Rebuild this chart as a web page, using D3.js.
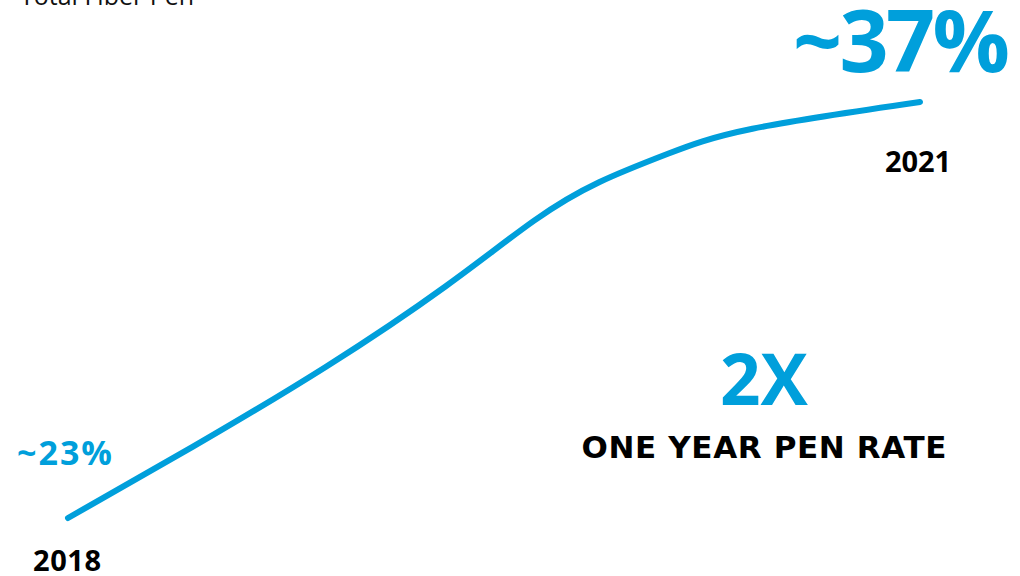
<!DOCTYPE html>
<html>
<head>
<meta charset="utf-8">
<script src="https://cdn.jsdelivr.net/npm/d3@7"></script>
<style>
  body { margin: 0; background: #fff; }
  text { font-family: "Open Sans", "Noto Sans", sans-serif; }
</style>
</head>
<body>
<div id="chart"></div>
<script>
// data (year, fiber penetration %)
const years = [2018.00, 2018.44, 2018.91, 2019.33, 2019.64, 2019.87, 2020.11, 2020.41, 2021.00];
const penRate = [23.0, 25.4, 28.1, 30.8, 33.0, 34.3, 35.25, 36.1, 37.0];
const startLabel = "~23%";
const endLabel = "~37%";
const yearLabels = ["2018", "2021"];

const width = 1020, height = 576;
const blue = "#009fdb";

const svg = d3.select("#chart")
              .append("svg")
              .attr("width", width)
              .attr("height", height);

// scales
const x = d3.scaleLinear().domain([2018, 2021]).range([68, 920]);
const y = d3.scaleLinear().domain([23, 37]).range([518, 102]);

const pts = years.map((d, i) => ({year: d, pen: penRate[i]}));

const line = d3.line()
               .curve(d3.curveNatural)
               .x(d => x(d.year))
               .y(d => y(d.pen));

svg.append("path")
   .datum(pts)
   .attr("d", line)
   .style("fill", "none")
   .style("stroke", blue)
   .style("stroke-width", "6px")
   .style("stroke-linecap", "round")
   .style("stroke-linejoin", "round");

// title (cut at the top edge)
svg.append("text")
   .attr("x", 20)
   .attr("y", 5)
   .style("font-size", "25px")
   .attr("fill", "#111")
   .text("Total Fiber Pen");

// start value
svg.append("text")
   .attr("x", 17)
   .attr("y", 465)
   .style("font-size", "34px")
   .style("font-weight", "bold")
   .attr("fill", blue)
   .attr("textLength", 95)
   .text(startLabel);

svg.append("text")
   .attr("x", 33)
   .attr("y", 571)
   .style("font-size", "29px")
   .style("font-weight", "bold")
   .attr("fill", "#000")
   .attr("textLength", 68)
   .text(yearLabels[0]);

// end value
svg.append("text")
   .attr("x", 793)
   .attr("y", 72)
   .style("font-size", "86px")
   .style("font-weight", "bold")
   .attr("fill", blue)
   .attr("textLength", 217)
   .text(endLabel);

svg.append("text")
   .attr("x", 885)
   .attr("y", 172)
   .style("font-size", "29px")
   .style("font-weight", "bold")
   .attr("fill", "#000")
   .attr("textLength", 66)
   .text(yearLabels[1]);

// callout
svg.append("text")
   .attr("x", 764)
   .attr("y", 405)
   .attr("text-anchor", "middle")
   .style("font-size", "71px")
   .style("font-weight", "bold")
   .attr("fill", blue)
   .text("2X");

svg.append("text")
   .attr("x", 764)
   .attr("y", 458)
   .attr("text-anchor", "middle")
   .style("font-family", "'DejaVu Sans', sans-serif")
   .style("font-size", "31px")
   .style("font-weight", "bold")
   .attr("fill", "#000")
   .attr("textLength", 365)
   .text("ONE YEAR PEN RATE");
</script>
</body>
</html>
